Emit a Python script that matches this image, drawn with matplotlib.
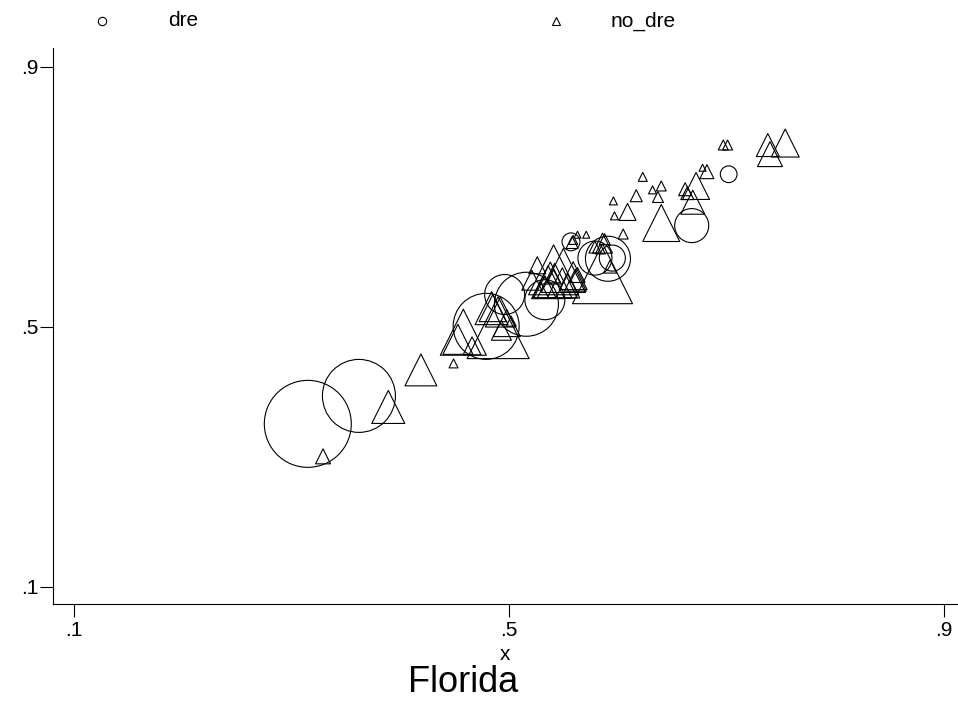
import matplotlib
matplotlib.use("Agg")
import matplotlib.pyplot as plt
from matplotlib.lines import Line2D

plt.rcParams['font.family'] = ['Liberation Sans', 'DejaVu Sans']

# dre counties: share x, share y, weight
dre_x = [0.315, 0.362, 0.479, 0.496, 0.516, 0.533, 0.557, 0.579, 0.591, 0.595, 0.668, 0.702]
dre_y = [0.351, 0.394, 0.501, 0.550, 0.535, 0.542, 0.631, 0.606, 0.605, 0.606, 0.656, 0.735]
dre_w = [75.7, 53.3, 43.6, 16.0, 41.0, 16.0, 3.2, 11.6, 20.3, 6.8, 11.6, 2.8]

# no_dre counties
nodre_x = [0.329, 0.389, 0.419, 0.449, 0.458, 0.453, 0.466, 0.484, 0.485, 0.492,
           0.498, 0.502, 0.490, 0.493, 0.526, 0.541, 0.550, 0.559, 0.538, 0.563,
           0.541, 0.536, 0.542, 0.549, 0.533, 0.554, 0.529, 0.561, 0.521, 0.558,
           0.563, 0.571, 0.559, 0.586, 0.584, 0.579, 0.593, 0.586, 0.588, 0.605,
           0.597, 0.596, 0.609, 0.617, 0.623, 0.632, 0.640, 0.637, 0.640, 0.662,
           0.664, 0.672, 0.669, 0.678, 0.682, 0.697, 0.701, 0.738, 0.754, 0.740]
nodre_y = [0.301, 0.377, 0.434, 0.444, 0.492, 0.481, 0.471, 0.529, 0.529, 0.523,
           0.506, 0.509, 0.499, 0.495, 0.595, 0.588, 0.587, 0.579, 0.583, 0.580,
           0.578, 0.569, 0.571, 0.568, 0.562, 0.563, 0.557, 0.572, 0.572, 0.630,
           0.642, 0.642, 0.634, 0.629, 0.620, 0.623, 0.593, 0.582, 0.635, 0.643,
           0.671, 0.694, 0.677, 0.702, 0.731, 0.711, 0.717, 0.700, 0.660, 0.712,
           0.706, 0.717, 0.692, 0.745, 0.739, 0.780, 0.780, 0.780, 0.783, 0.766]
nodre_w = [2.25, 10.9, 10.2, 0.81, 21.2, 9.0, 3.24, 10.9, 7.3, 9.0,
           7.3, 1.0, 38.4, 4.0, 2.9, 25.0, 19.4, 7.8, 4.84, 2.25,
           1.7, 10.9, 12.25, 9.0, 4.84, 5.76, 2.56, 4.84, 4.0, 1.44,
           0.49, 0.49, 0.81, 4.0, 1.0, 1.44, 1.7, 36.0, 1.2, 1.0,
           0.64, 0.64, 2.9, 1.44, 0.81, 0.64, 1.0, 1.2, 13.7, 1.7,
           1.7, 7.3, 5.76, 0.49, 1.96, 1.0, 1.0, 5.3, 7.84, 6.25]

ticks = [0.1, 0.5, 0.9]
tick_labels = ['.1', '.5', '.9']

W, H = 958, 703
fig = plt.figure(figsize=(W / 100, H / 100), dpi=100)
ax = fig.add_axes([53 / W, 1 - 604 / H, 1 - 53 / W, (604 - 48) / H])

scale = 51.8  # weight -> points^2
ax.scatter(dre_x, dre_y, s=[w * scale for w in dre_w], marker='o',
           facecolors='none', edgecolors='black', linewidths=0.8)
ax.scatter(nodre_x, nodre_y, s=[w * scale for w in nodre_w], marker='^',
           facecolors='none', edgecolors='black', linewidths=0.8)

ax.set_xlim(0.1 - 21 / 1087.5, 0.1 + 884 / 1087.5)
ax.set_ylim(0.1 - 17 / 650, 0.9 + 19 / 650)
ax.set_xticks(ticks)
ax.set_xticklabels(tick_labels)
ax.set_yticks(ticks)
ax.set_yticklabels(tick_labels)
ax.tick_params(direction='out', length=9.5, width=0.8, labelsize=15, colors='black')
ax.tick_params(axis='x', pad=3)
ax.tick_params(axis='y', pad=1)
for side in ['top', 'right']:
    ax.spines[side].set_visible(False)
for side in ['left', 'bottom']:
    ax.spines[side].set_linewidth(0.8)
ax.set_xlabel('x', fontsize=15, labelpad=3)

# legend row along the top
fig.add_artist(Line2D([102 / W], [1 - 21 / H], transform=fig.transFigure, marker='o',
                      markersize=6, markerfacecolor='none', markeredgecolor='black',
                      markeredgewidth=0.8, linestyle='none'))
fig.text(168 / W, 1 - 21 / H, 'dre', fontsize=15, va='center', ha='left')
fig.add_artist(Line2D([556 / W], [1 - 21 / H], transform=fig.transFigure, marker='^',
                      markersize=6, markerfacecolor='none', markeredgecolor='black',
                      markeredgewidth=0.8, linestyle='none'))
fig.text(611 / W, 1 - 21 / H, 'no_dre', fontsize=15, va='center', ha='left')

fig.text(463 / W, 1 - 682 / H, 'Florida', fontsize=26, va='center', ha='center')

fig.savefig('out.png', dpi=100)
